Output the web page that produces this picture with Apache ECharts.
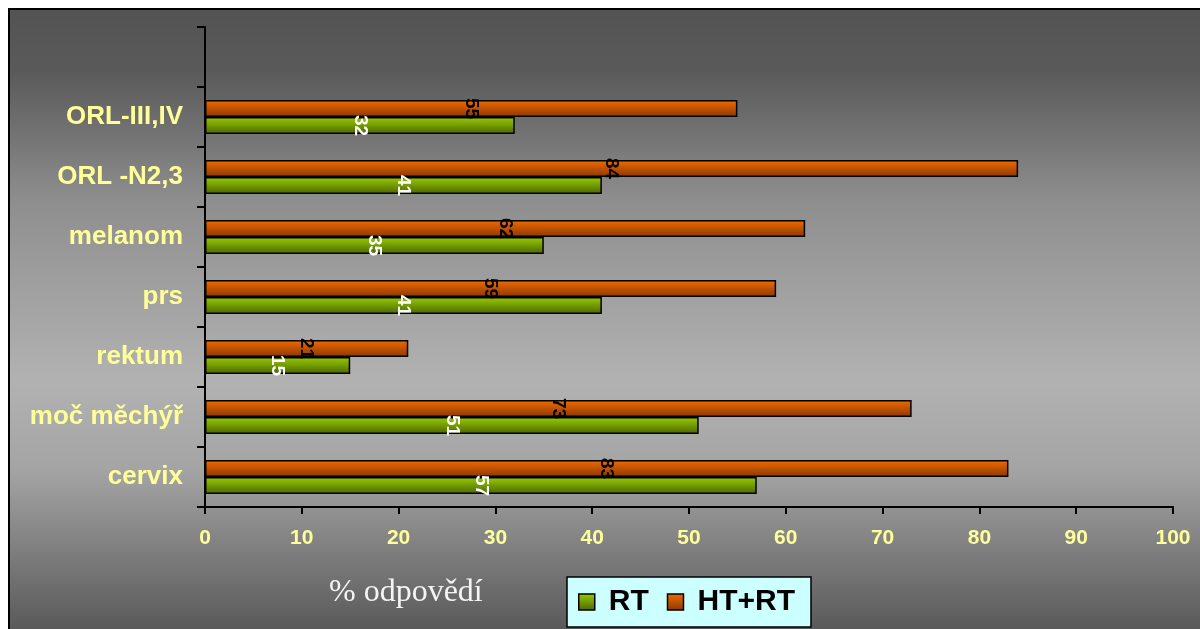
<!DOCTYPE html>
<html>
<head>
<meta charset="utf-8">
<script src="https://cdn.jsdelivr.net/npm/echarts@6/dist/echarts.min.js"></script>
<style>
  html, body { margin: 0; padding: 0; background: #ffffff; }
  #chart { width: 1200px; height: 629px; }
</style>
</head>
<body>
<div id="chart"></div>
<script>
// Categories listed from the bottom of the axis upward; the top slot is left blank
const categories = ['cervix', 'moč měchýř', 'rektum', 'prs', 'melanom', 'ORL -N2,3', 'ORL-III,IV', ''];
const rtValues   = [57, 51, 15, 41, 35, 41, 32, null];
const htrtValues = [83, 73, 21, 59, 62, 84, 55, null];
const xTicks = { min: 0, max: 100, interval: 10 };
const axisName = '% odpovědí';

const FONT = '"Liberation Sans", Arial, sans-serif';
const YELLOW = '#ffff99';

function vGrad(top, bottom) {
  return new echarts.graphic.LinearGradient(0, 0, 0, 1, [
    { offset: 0, color: top },
    { offset: 1, color: bottom }
  ]);
}

const chart = echarts.init(document.getElementById('chart'), null, { renderer: 'canvas' });

chart.setOption({
  animation: false,
  backgroundColor: '#ffffff',
  graphic: [
    {
      type: 'rect',
      z: -10,
      silent: true,
      shape: { x: 9, y: 9, width: 1200, height: 640 },
      style: {
        fill: new echarts.graphic.LinearGradient(0, 0, 0, 1, [
          { offset: 0.00, color: '#535353' },
          { offset: 0.10, color: '#5a5a5a' },
          { offset: 0.30, color: '#8e8e8e' },
          { offset: 0.58, color: '#b2b2b2' },
          { offset: 0.72, color: '#a4a4a4' },
          { offset: 0.86, color: '#7a7a7a' },
          { offset: 1.00, color: '#505050' }
        ]),
        stroke: '#000000',
        lineWidth: 2
      }
    },
    {
      type: 'text',
      left: 329,
      top: 577,
      silent: true,
      style: {
        text: axisName,
        fill: '#f4f4f4',
        font: '32px "Liberation Serif", "Times New Roman", serif'
      }
    }
  ],
  grid: { left: 205, right: 27, top: 27, bottom: 122, containLabel: false },
  legend: {
    data: ['RT', 'HT+RT'],
    left: 567,
    top: 577,
    orient: 'horizontal',
    backgroundColor: '#ccffff',
    borderColor: '#000000',
    borderWidth: 1.5,
    padding: [10, 16, 10, 11],
    itemWidth: 16,
    itemHeight: 16,
    itemGap: 18,
    icon: 'rect',
    itemStyle: { borderColor: '#000000', borderWidth: 1.5 },
    textStyle: {
      fontFamily: FONT,
      fontSize: 30,
      fontWeight: 'bold',
      color: '#000000',
      padding: [0, 0, 0, 9]
    }
  },
  xAxis: {
    type: 'value',
    min: xTicks.min,
    max: xTicks.max,
    interval: xTicks.interval,
    splitLine: { show: false },
    axisLine: { show: true, lineStyle: { color: '#000000', width: 2 } },
    axisTick: { show: true, inside: false, length: 7, lineStyle: { color: '#000000', width: 2 } },
    axisLabel: {
      color: YELLOW,
      fontFamily: FONT,
      fontWeight: 'bold',
      fontSize: 21,
      margin: 21
    }
  },
  yAxis: {
    type: 'category',
    data: categories,
    axisLine: { show: true, lineStyle: { color: '#000000', width: 2 } },
    axisTick: { show: true, inside: false, length: 8, alignWithLabel: false, lineStyle: { color: '#000000', width: 2 } },
    axisLabel: {
      color: YELLOW,
      fontFamily: FONT,
      fontWeight: 'bold',
      fontSize: 26,
      margin: 22
    },
    splitLine: { show: false }
  },
  series: [
    {
      name: 'HT+RT',
      type: 'bar',
      data: htrtValues,
      barGap: '0%',
      barCategoryGap: '43%',
      itemStyle: {
        color: vGrad('#f46c00', '#8a3800'),
        borderColor: '#000000',
        borderWidth: 1.5
      },
      label: {
        show: true,
        position: 'inside',
        rotate: -90,
        color: '#000000',
        fontFamily: FONT,
        fontWeight: 'bold',
        fontSize: 19
      }
    },
    {
      name: 'RT',
      type: 'bar',
      data: rtValues,
      barGap: '0%',
      barCategoryGap: '43%',
      itemStyle: {
        color: vGrad('#9acc00', '#4a6600'),
        borderColor: '#000000',
        borderWidth: 1.5
      },
      label: {
        show: true,
        position: 'inside',
        rotate: -90,
        color: '#ffffff',
        fontFamily: FONT,
        fontWeight: 'bold',
        fontSize: 19
      }
    }
  ]
});
</script>
</body>
</html>
